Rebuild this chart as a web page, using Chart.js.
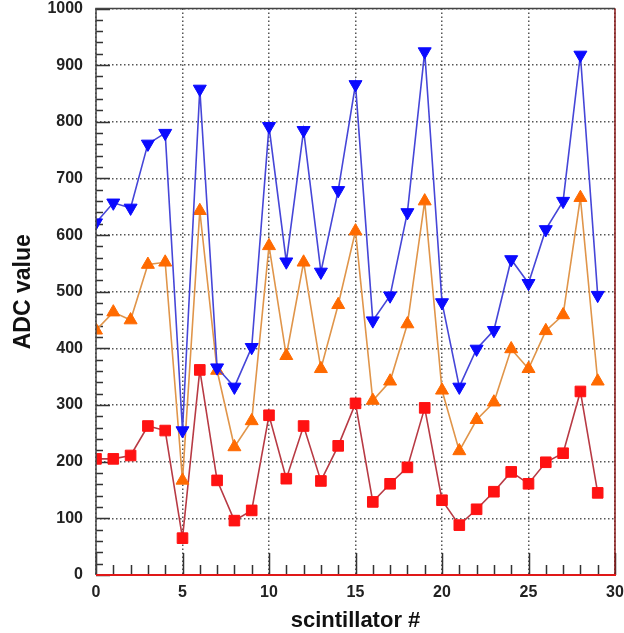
<!DOCTYPE html>
<html>
<head>
<meta charset="utf-8">
<title>ADC value per scintillator</title>
<script src="https://cdn.jsdelivr.net/npm/chart.js@4/dist/chart.umd.min.js"></script>
<style>
  html, body { margin: 0; padding: 0; background: #fff; }
  #wrap { width: 624px; height: 633px; }
</style>
</head>
<body>
<div id="wrap"><canvas id="adcChart" width="624" height="633"></canvas></div>
<script>
// scintillator numbers and ADC readings
const scintillator = [0,1,2,3,4,5,6,7,8,9,10,11,12,13,14,15,16,17,18,19,20,21,22,23,24,25,26,27,28,29];
const adcHigh = [622,657,648,761,780,255,858,366,332,402,792,553,785,535,679,866,449,493,640,924,481,332,399,432,557,515,610,660,918,494];
const adcMid  = [432,464,450,548,552,167,643,361,226,272,581,387,552,364,477,607,308,342,443,660,326,219,274,305,399,364,431,459,666,342];
const adcLow  = [205,205,211,263,255,65,362,167,96,114,282,170,263,166,228,303,129,161,190,295,132,88,116,147,182,161,199,215,324,145];

const xMin = 0, xMax = 30, xStep = 5;
const yMin = 0, yMax = 1000, yStep = 100;

function toPoints(vals){
    return scintillator.map((s,i)=>({x:s, y:vals[i]}));
}

// ROOT-like frame: inward ticks + frame lines
const frameTicks = {
    id:'frameTicks',
    beforeDatasetsDraw(chart){
        const {ctx, chartArea:a, scales:{x, y}} = chart;
        ctx.save();
        ctx.strokeStyle = '#333';
        ctx.lineWidth = 1.5;
        ctx.beginPath();
        for(let v = xMin; v <= xMax; v++){
            const px = Math.round(x.getPixelForValue(v)) + 0.5;
            const len = (v % xStep === 0) ? 22 : 10;
            ctx.moveTo(px, a.bottom);
            ctx.lineTo(px, a.bottom - len);
        }
        for(let v = yMin; v <= yMax; v += 20){
            const py = Math.round(y.getPixelForValue(v)) + 0.5;
            const len = (v % yStep === 0) ? 14 : 7;
            ctx.moveTo(a.left, py);
            ctx.lineTo(a.left + len, py);
        }
        ctx.stroke();
        ctx.restore();
    },
    afterDraw(chart){
        const {ctx, chartArea:a} = chart;
        ctx.save();
        ctx.lineWidth = 1.5;
        ctx.strokeStyle = '#444';
        ctx.beginPath();
        ctx.moveTo(a.left, a.bottom);
        ctx.lineTo(a.left, a.top);
        ctx.lineTo(a.right, a.top);
        ctx.stroke();
        ctx.strokeStyle = '#8a1a1a';
        ctx.beginPath();
        ctx.moveTo(a.right, a.top);
        ctx.lineTo(a.right, a.bottom);
        ctx.stroke();
        ctx.lineWidth = 2;
        ctx.strokeStyle = '#e01818';
        ctx.beginPath();
        ctx.moveTo(a.left, a.bottom);
        ctx.lineTo(a.right + 1, a.bottom);
        ctx.stroke();
        ctx.restore();
    }
};

const tickFont = {family:'"Liberation Sans", Arial, sans-serif', size:16, weight:'bold'};
const titleFont = {family:'"Liberation Sans", Arial, sans-serif', weight:'bold', lineHeight:1};

var ctx = document.getElementById('adcChart').getContext('2d');
var chart = new Chart(ctx, {
    type:'scatter',
    data:{
        datasets:[{
            label:'high',
            data:toPoints(adcHigh),
            showLine:true,
            borderColor:'#4646d8',
            borderWidth:1.6,
            pointStyle:'triangle',
            rotation:180,
            pointRadius:7.5,
            pointBackgroundColor:'#0a0aff',
            pointBorderColor:'#0a0aff',
            pointBorderWidth:1
        },{
            label:'mid',
            data:toPoints(adcMid),
            showLine:true,
            borderColor:'#e0954a',
            borderWidth:1.6,
            pointStyle:'triangle',
            pointRadius:7.5,
            pointBackgroundColor:'#ff6a00',
            pointBorderColor:'#ff6a00',
            pointBorderWidth:1
        },{
            label:'low',
            data:toPoints(adcLow),
            showLine:true,
            borderColor:'#b83a44',
            borderWidth:1.6,
            pointStyle:'rect',
            pointRadius:7.5,
            pointBackgroundColor:'#ff1212',
            pointBorderColor:'#ff1212',
            pointBorderWidth:1
        }]
    },
    options:{
        responsive:false,
        animation:false,
        layout:{padding:{top:6, right:9, left:0, bottom:0}},
        plugins:{legend:{display:false}, tooltip:{enabled:false}},
        scales:{
            x:{
                type:'linear', min:xMin, max:xMax,
                afterFit(s){ s.height = 58; s.paddingLeft = 0; s.paddingRight = 0; },
                ticks:{stepSize:xStep, font:tickFont, color:'#222', padding:8, maxRotation:0,
                       callback:(v)=>String(v)},
                grid:{color:'#555', lineWidth:1.5, drawTicks:false},
                border:{display:false, dash:[1.5,2.5]},
                title:{display:true, text:'scintillator #', font:{...titleFont, size:22}, color:'#111', padding:{top:0, bottom:1}}
            },
            y:{
                type:'linear', min:yMin, max:yMax,
                afterFit(s){ s.width = 96; s.paddingTop = 0; s.paddingBottom = 0; },
                ticks:{stepSize:yStep, font:tickFont, color:'#222', padding:13,
                       callback:(v)=>String(v)},
                grid:{color:'#555', lineWidth:1.5, drawTicks:false},
                border:{display:false, dash:[1.5,2.5]},
                title:{display:true, text:'ADC value', font:{...titleFont, size:23}, color:'#111', padding:{top:12, bottom:0}}
            }
        }
    },
    plugins:[frameTicks]
});
</script>
</body>
</html>
